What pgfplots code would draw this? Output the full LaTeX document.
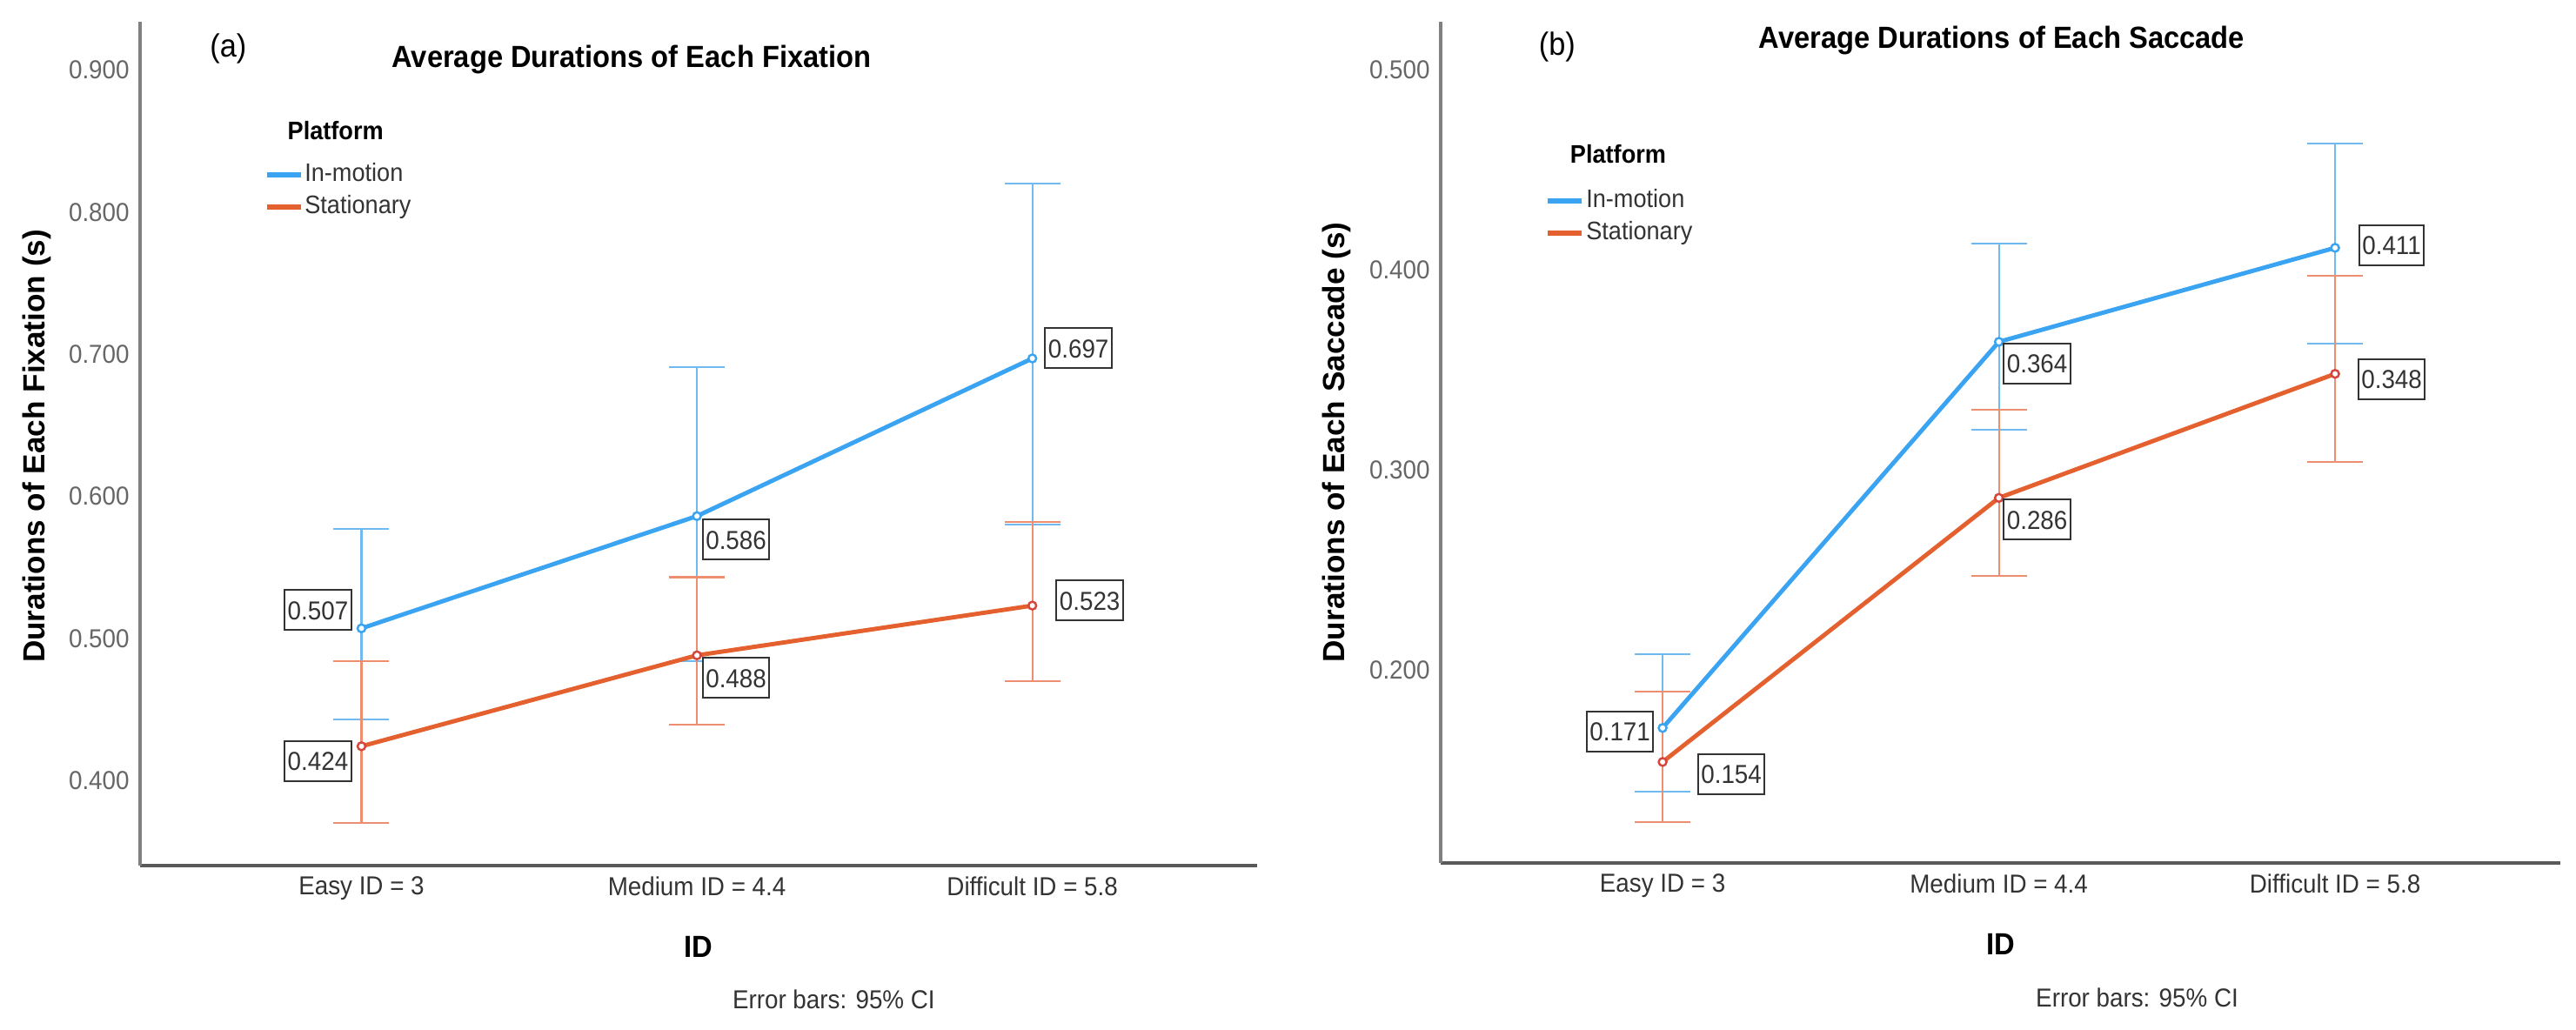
\documentclass[border=0pt]{standalone}
\usepackage{fontspec}
\setmainfont{Liberation Sans}[FakeStretch=0.93]
\newfontfamily\ylabfont{Liberation Sans}
\usepackage{pgfplots}
\usepackage{pgfplotstable}
\pgfplotsset{compat=1.18}

\definecolor{motion}{RGB}{59,164,242}
\definecolor{motionbar}{RGB}{112,186,240}
\definecolor{stat}{RGB}{228,96,46}
\definecolor{statbar}{RGB}{238,142,112}
\definecolor{statmark}{RGB}{214,70,60}

% x = category, y = mean, ep/em = CI above/below, dx/dy = label offset (mm)
\pgfplotstableread{
x y ep em dx dy
0 0.507 0.070 0.064 -5.0 2.1
1 0.586 0.105 0.102 4.5 -2.7
2 0.697 0.123 0.117 5.3 1.2
}\fixmotion
\pgfplotstableread{
x y ep em dx dy
0 0.424 0.060 0.054 -5.0 -1.7
1 0.488 0.055 0.049 4.5 -2.6
2 0.523 0.059 0.053 6.6 0.6
}\fixstat
\pgfplotstableread{
x y ep em dx dy
0 0.171 0.037 0.032 -4.9 -0.4
1 0.364 0.049 0.044 4.4 -2.5
2 0.411 0.052 0.048 6.5 0.3
}\sacmotion
\pgfplotstableread{
x y ep em dx dy
0 0.154 0.035 0.030 7.9 -1.4
1 0.286 0.044 0.039 4.4 -2.5
2 0.348 0.049 0.044 6.5 -0.6
}\sacstat

\pgfplotsset{
  spss/.style={
    scale only axis,
    clip=false,
    axis x line*=bottom,
    axis y line*=left,
    x axis line style={draw=black!65, line width=0.9pt},
    y axis line style={draw=black!50, line width=0.9pt},
    xmin=-0.66, xmax=2.67,
    xtick={0,1,2},
    xticklabels={Easy ID = 3, Medium ID = 4.4, Difficult ID = 5.8},
    major tick length=0pt,
    tick label style={font=\fontsize{8.5}{10}\selectfont},
    xticklabel style={text=black!80},
    yticklabel style={text=black!60, /pgf/number format/.cd, fixed, fixed zerofill, precision=3, assume math mode=true},
    xlabel={ID},
    xlabel style={font=\bfseries\fontsize{10}{12}\selectfont, at={(axis description cs:0.5,0)}, anchor=center, yshift=-9.3mm},
    ylabel style={font=\ylabfont\bfseries\fontsize{10}{12}\selectfont, anchor=center},
    legend style={draw=none, fill=none, anchor=north west, inner sep=0pt,
      font=\fontsize{8.3}{10}\selectfont, text=black!80, row sep=0.6mm,
      nodes={inner sep=0.2mm, text height=2.1mm, text depth=0.6mm}},
    legend cell align=left,
    legend image code/.code={\draw[line width=1.6pt] (0mm,0mm) -- (3.9mm,0mm);},
  },
  ebar/.style={forget plot, draw=none, mark=none,
    error bars/.cd, y dir=both, y explicit,
    error bar style={draw=#1, line width=0.6pt},
    error mark options={rotate=90, mark size=3.2mm, draw=#1, line width=0.6pt}},
  mline/.style 2 args={color=#1, line width=1.4pt, mark=*, mark size=0.45mm,
    mark options={solid, fill=white, draw=#2, line width=0.7pt}},
  vlab/.style={forget plot, draw=none, mark=none,
    nodes near coords, point meta=explicit symbolic,
    visualization depends on={\thisrow{dx} \as \dx},
    visualization depends on={\thisrow{dy} \as \dy},
    every node near coord/.append style={anchor=center, xshift=\dx mm, yshift=\dy mm,
      draw=black!80, line width=0.6pt, fill=white, text=black!80,
      font=\fontsize{8.5}{10}\selectfont, inner xsep=0.35mm, inner ysep=1.2mm,
      text height=2.2mm, text depth=0mm}},
}

\begin{document}
\begin{tikzpicture}
\useasboundingbox (0,0) rectangle (296.1mm,118.3mm);

% (a) fixations
\begin{axis}[spss,
  at={(16.1mm,18.8mm)}, anchor=south west,
  width=128.4mm, height=97mm,
  ymin=0.34, ymax=0.934,
  ytick={0.4,0.5,0.6,0.7,0.8,0.9},
  ylabel={Durations of Each Fixation (s)},
  ylabel style={at={(axis description cs:-0.092,0.497)}},
  legend style={at={(axis description cs:0.1106,0.835)}},
]
\addplot[ebar=motionbar] table[x=x, y=y, y error plus=ep, y error minus=em] {\fixmotion};
\addplot[ebar=statbar] table[x=x, y=y, y error plus=ep, y error minus=em] {\fixstat};
\addplot[mline={motion}{motion}] table[x=x, y=y] {\fixmotion};
\addlegendentry{In-motion}
\addplot[mline={stat}{statmark}] table[x=x, y=y] {\fixstat};
\addlegendentry{Stationary}
\addplot[vlab] table[x=x, y=y, meta=y] {\fixmotion};
\addplot[vlab] table[x=x, y=y, meta=y] {\fixstat};
\node[font=\bfseries\fontsize{8.3}{10}\selectfont] at (axis description cs:0.175,0.871) {Platform};
\node[font=\bfseries\fontsize{10}{12}\selectfont] at (axis description cs:0.44,0.955) {Average Durations of Each Fixation};
\node[font=\fontsize{10.5}{12}\selectfont] at (axis description cs:0.079,0.968) {(a)};
\node[font=\fontsize{8.5}{10}\selectfont, text=black!80] at (axis description cs:0.621,0) [yshift=-15.4mm] {Error bars: 95\% CI};
\end{axis}

% (b) saccades
\begin{axis}[spss,
  at={(165.6mm,19.1mm)}, anchor=south west,
  width=128.7mm, height=96.7mm,
  ymin=0.1035, ymax=0.524,
  ytick={0.2,0.3,0.4,0.5},
  ylabel={Durations of Each Saccade (s)},
  ylabel style={at={(axis description cs:-0.093,0.50)}},
  legend style={at={(axis description cs:0.0932,0.804)}},
]
\addplot[ebar=motionbar] table[x=x, y=y, y error plus=ep, y error minus=em] {\sacmotion};
\addplot[ebar=statbar] table[x=x, y=y, y error plus=ep, y error minus=em] {\sacstat};
\addplot[mline={motion}{motion}] table[x=x, y=y] {\sacmotion};
\addlegendentry{In-motion}
\addplot[mline={stat}{statmark}] table[x=x, y=y] {\sacstat};
\addlegendentry{Stationary}
\addplot[vlab] table[x=x, y=y, meta=y] {\sacmotion};
\addplot[vlab] table[x=x, y=y, meta=y] {\sacstat};
\node[font=\bfseries\fontsize{8.3}{10}\selectfont] at (axis description cs:0.1585,0.843) {Platform};
\node[font=\bfseries\fontsize{10}{12}\selectfont] at (axis description cs:0.501,0.978) {Average Durations of Each Saccade};
\node[font=\fontsize{10.5}{12}\selectfont] at (axis description cs:0.104,0.970) {(b)};
\node[font=\fontsize{8.5}{10}\selectfont, text=black!80] at (axis description cs:0.622,0) [yshift=-15.5mm] {Error bars: 95\% CI};
\end{axis}
\end{tikzpicture}
\end{document}
